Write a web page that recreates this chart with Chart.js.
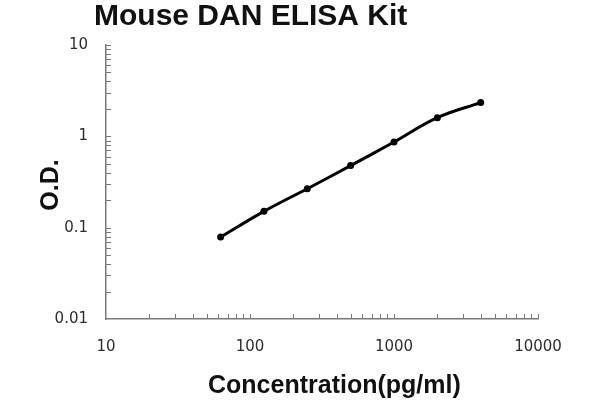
<!DOCTYPE html>
<html>
<head>
<meta charset="utf-8">
<script src="https://cdn.jsdelivr.net/npm/chart.js@4/dist/chart.umd.min.js"></script>
<style>
  html, body { margin: 0; padding: 0; background: #ffffff; }
  #wrap { width: 600px; height: 400px; position: relative; }
</style>
</head>
<body>
<div id="wrap"><canvas id="c" width="600" height="400"></canvas></div>
<script>
// ---- data ----
const chartTitle = 'Mouse DAN ELISA Kit';
const xAxisTitle = 'Concentration(pg/ml)';
const yAxisTitle = 'O.D.';
const concentrations = [62.5, 125, 250, 500, 1000, 2000, 4000];
const odValues = [0.079, 0.151, 0.267, 0.478, 0.866, 1.60, 2.34];
const xTickValues = [10, 100, 1000, 10000];
const xTickLabels = ['10', '100', '1000', '10000'];
const yTickValues = [0.01, 0.1, 1, 10];
const yTickLabels = ['0.01', '0.1', '1', '10'];

function labelFor(v, values, labels) {
  for (let i = 0; i < values.length; i++) {
    if (Math.abs(Math.log10(v) - Math.log10(values[i])) < 1e-6) return labels[i];
  }
  return '';
}

const axisColor = '#7a7a7a';
const textColor = '#2e2e2e';

const decorPlugin = {
  id: 'decor',
  afterDraw(chart) {
    const ctx = chart.ctx;
    const xs = chart.scales.x, ys = chart.scales.y;
    const area = chart.chartArea;
    ctx.save();
    // minor/major tick marks pointing inwards
    ctx.strokeStyle = axisColor;
    ctx.lineWidth = 1;
    ctx.beginPath();
    for (let d = 0; d < xTickValues.length - 1; d++) {
      for (let k = 2; k <= 10; k++) {
        const v = xTickValues[d] * k;
        const px = Math.round(xs.getPixelForValue(v)) + 0.5;
        ctx.moveTo(px, area.bottom);
        ctx.lineTo(px, area.bottom - 5);
      }
    }
    for (let d = 0; d < yTickValues.length - 1; d++) {
      for (let k = 2; k <= 10; k++) {
        const v = yTickValues[d] * k;
        const py = Math.round(ys.getPixelForValue(v)) + 0.5;
        ctx.moveTo(area.left, py);
        ctx.lineTo(area.left + 5, py);
      }
    }
    ctx.stroke();

    // titles
    ctx.fillStyle = '#111111';
    ctx.textBaseline = 'alphabetic';
    ctx.textAlign = 'left';
    ctx.font = 'bold 30px "Liberation Sans", Arial, sans-serif';
    ctx.fillText(chartTitle, 94, 25);

    ctx.font = 'bold 25px "Liberation Sans", Arial, sans-serif';
    ctx.fillText(xAxisTitle, 208, 393);

    ctx.save();
    ctx.translate(58, 185);
    ctx.rotate(-Math.PI / 2);
    ctx.textAlign = 'center';
    ctx.fillText(yAxisTitle, 0, 0);
    ctx.restore();
    ctx.restore();
  }
};

new Chart(document.getElementById('c'), {
  type: 'line',
  data: {
    datasets: [{
      data: concentrations.map((c, i) => ({ x: c, y: odValues[i] })),
      borderColor: '#000000',
      backgroundColor: '#000000',
      borderWidth: 3,
      pointRadius: 3.5,
      pointHoverRadius: 3.5,
      pointBackgroundColor: '#000000',
      pointBorderWidth: 0,
      tension: 0.4,
      fill: false
    }]
  },
  options: {
    responsive: false,
    animation: false,
    events: [],
    layout: { padding: { top: 45, right: 62, left: 0, bottom: 0 } },
    plugins: {
      legend: { display: false },
      title: { display: false },
      tooltip: { enabled: false }
    },
    scales: {
      x: {
        type: 'logarithmic',
        min: 10,
        max: 10000,
        afterFit(scale) { scale.height = 81; },
        grid: { display: true, drawOnChartArea: false, drawTicks: false },
        border: { display: true, color: axisColor, width: 1.5 },
        afterBuildTicks(scale) { scale.ticks = xTickValues.map(v => ({ value: v })); },
        ticks: {
          autoSkip: false,
          maxRotation: 0,
          padding: 19,
          color: textColor,
          font: { family: '"DejaVu Sans", Verdana, sans-serif', size: 15 },
          callback: (v) => labelFor(v, xTickValues, xTickLabels)
        }
      },
      y: {
        type: 'logarithmic',
        min: 0.01,
        max: 10,
        afterFit(scale) { scale.width = 106; },
        grid: { display: true, drawOnChartArea: false, drawTicks: false },
        border: { display: true, color: axisColor, width: 1.5 },
        afterBuildTicks(scale) { scale.ticks = yTickValues.map(v => ({ value: v })); },
        ticks: {
          autoSkip: false,
          padding: 18,
          color: textColor,
          font: { family: '"DejaVu Sans", Verdana, sans-serif', size: 15 },
          callback: (v) => labelFor(v, yTickValues, yTickLabels)
        }
      }
    }
  },
  plugins: [decorPlugin]
});
</script>
</body>
</html>
